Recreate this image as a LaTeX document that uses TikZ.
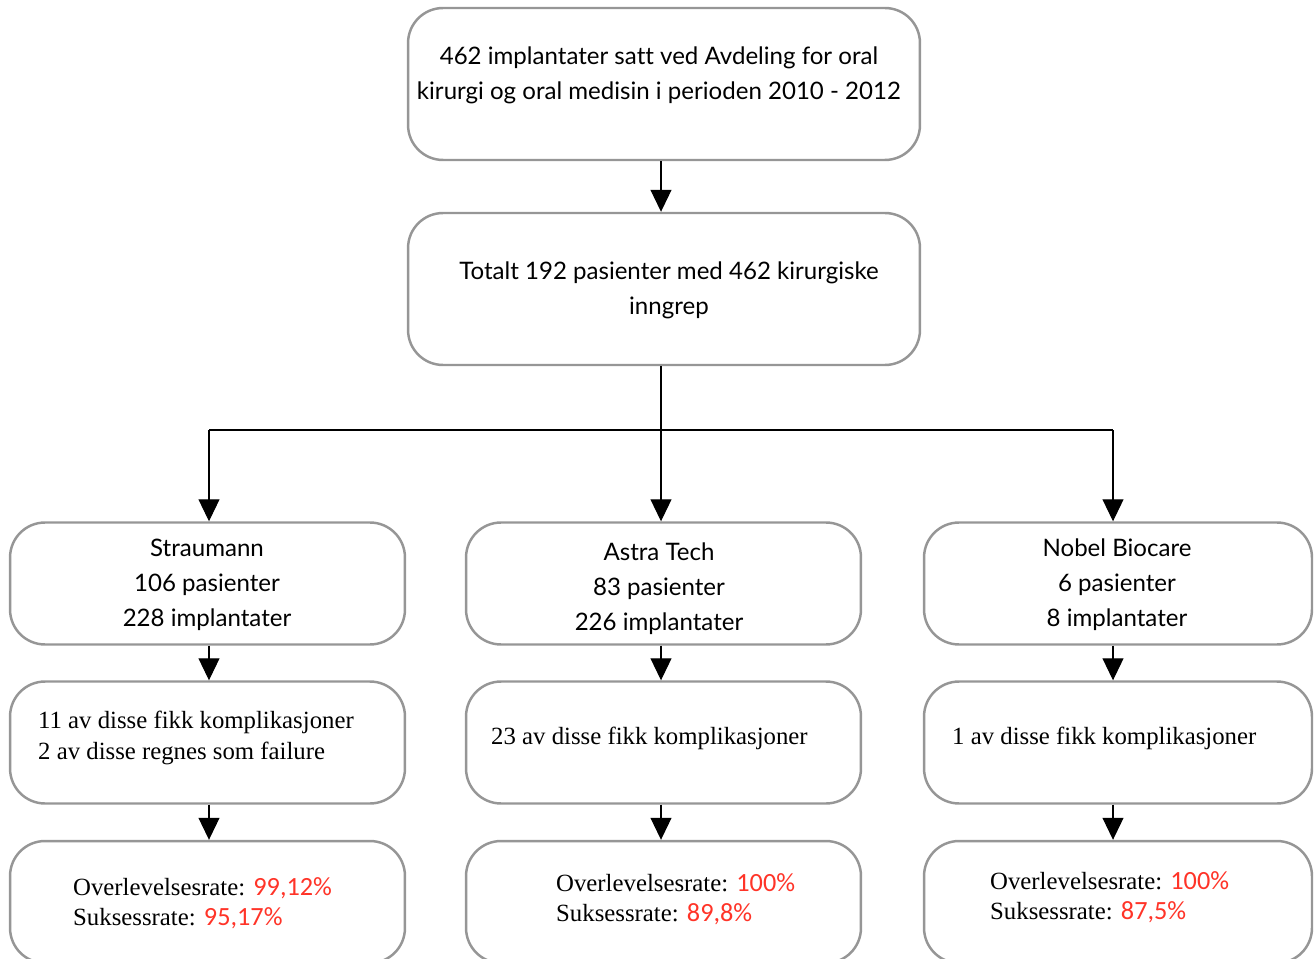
\documentclass[tikz,border=0pt]{standalone}
\usepackage{fontspec}
\setmainfont{Liberation Serif}
\newfontfamily\avenir[Ligatures=NoCommon]{Lato}
\newfontfamily\calibri[Scale=1.06]{Carlito}
\usetikzlibrary{arrows.meta,positioning}
\definecolor{rouge}{RGB}{255,52,40}
\definecolor{bordgris}{RGB}{150,150,150}
\newcommand{\taux}[1]{{\calibri\color{rouge}#1}}

\begin{document}
\begin{tikzpicture}[x=0.02cm,y=-0.02cm,
    boite/.style={draw=bordgris, line width=1.4pt, rounded corners=0.7cm, fill=white},
    grande/.style={boite, minimum width=10.24cm, minimum height=3.04cm},
    petite/.style={boite, minimum width=7.9cm, minimum height=2.44cm},
    sans/.style={align=center, font=\avenir\fontsize{13.7}{19.9}\selectfont},
    serif/.style={align=left, anchor=west, font=\fontsize{14.1}{17.4}\selectfont},
    fleche/.style={-{Triangle[width=0.42cm,length=0.44cm]}, line width=0.6pt}]
    \useasboundingbox (0,0) rectangle (1314,959);
    % Boites du haut
    \node[grande] (depart) at (664,84) {};
    \node[sans] (departtxt) at (659,75) {462 implantater satt ved Avdeling for oral\\kirurgi og oral medisin i perioden 2010 - 2012};
    \node[grande] (totalt) at (664,289) {};
    \node[sans] (totalttxt) at (669,290) {Totalt 192 pasienter med 462 kirurgiske\\inngrep};
    % Fabricants
    \node[petite] (straumann) at (207.5,583.5) {};
    \node[sans] (straumanntxt) at (207,585) {Straumann\\106 pasienter\\228 implantater};
    \node[petite] (astra) at (663.5,583.5) {};
    \node[sans] (astratxt) at (659,589) {Astra Tech\\83 pasienter\\226 implantater};
    \node[petite, minimum width=7.76cm] (nobel) at (1118,583.5) {};
    \node[sans] (nobeltxt) at (1117,585) {Nobel Biocare\\6 pasienter\\8 implantater};
    % Komplikasjoner
    \node[petite] (kompS) at (207.5,742.5) {};
    \node[serif] (kompStxt) at (32,738) {11 av disse fikk komplikasjoner\\2 av disse regnes som failure};
    \node[petite] (kompA) at (663.5,742.5) {};
    \node[serif] (kompAtxt) at (485,738) {23 av disse fikk komplikasjoner};
    \node[petite, minimum width=7.76cm] (kompN) at (1118,742.5) {};
    \node[serif] (kompNtxt) at (946,738) {1 av disse fikk komplikasjoner};
    % Rater
    \node[petite] (rateS) at (207.5,902) {};
    \node[serif] (rateStxt) at (67,903) {Overlevelsesrate: \taux{99,12\%}\\Suksessrate: \taux{95,17\%}};
    \node[petite] (rateA) at (663.5,902) {};
    \node[serif] (rateAtxt) at (550,899) {Overlevelsesrate: \taux{100\%}\\Suksessrate: \taux{89,8\%}};
    \node[petite, minimum width=7.76cm] (rateN) at (1118,902) {};
    \node[serif] (rateNtxt) at (984,897) {Overlevelsesrate: \taux{100\%}\\Suksessrate: \taux{87,5\%}};
    % Fleches
    \coordinate (fourche) at (661,430);
    \coordinate (colS) at (209,430);
    \coordinate (colN) at (1113,430);
    \draw[fleche] (depart.south -| fourche) -- (totalt.north -| fourche);
    \draw[line width=0.6pt] (totalt.south -| fourche) -- (fourche);
    \draw[line width=0.6pt] (colS) -- (colN);
    \draw[fleche] (colS) -- (colS |- straumann.north);
    \draw[fleche] (fourche) -- (fourche |- astra.north);
    \draw[fleche] (colN) -- (colN |- nobel.north);
    \foreach \c/\a/\b in {colS/straumann/kompS, fourche/astra/kompA, colN/nobel/kompN, colS/kompS/rateS, fourche/kompA/rateA, colN/kompN/rateN} {
        \draw[fleche] (\c |- \a.south) -- (\c |- \b.north);
    }
\end{tikzpicture}
\end{document}
